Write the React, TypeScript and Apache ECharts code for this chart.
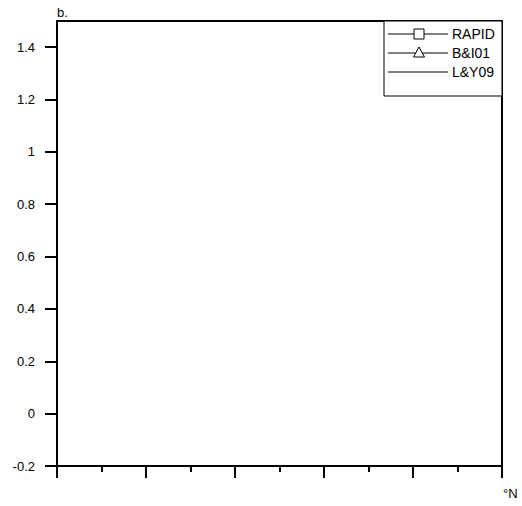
import React, { useEffect, useRef } from "react";
import * as echarts from "echarts";

const panelLabel = "b.";
const xUnitLabel = "°N";
const seriesNames = ["RAPID", "B&I01", "L&Y09"];
const seriesSymbols = ["square", "triangle", "none"];
const seriesValues: number[][] = [[], [], []];
const yTicks = [-0.2, 0, 0.2, 0.4, 0.6, 0.8, 1, 1.2, 1.4];
const yMin = -0.2;
const yMax = 1.5;
const xTicks = [0, 1, 2, 3, 4, 5];

const FONT = "'Liberation Sans', Arial, Helvetica, sans-serif";

export default function App() {
  const ref = useRef<HTMLDivElement>(null);
  useEffect(() => {
    document.body.style.margin = "0";
    if (!ref.current) return;
    const chart = echarts.init(ref.current, null, { renderer: "svg" });

    const lgX = 384, lgY = 21, lgW = 118, lgH = 75;
    const rowY = [34, 53, 72];
    const legendEls: any[] = [
      {
        type: "rect",
        shape: { x: lgX, y: lgY, width: lgW, height: lgH },
        style: { fill: "#fff", stroke: "#000", lineWidth: 1 },
        z: 10,
      },
    ];
    seriesNames.forEach((name, i) => {
      const y = rowY[i];
      legendEls.push({
        type: "line",
        shape: { x1: 388, y1: y, x2: 448, y2: y },
        style: { stroke: "#000", lineWidth: 1 },
        z: 11,
      });
      if (seriesSymbols[i] === "square") {
        legendEls.push({
          type: "rect",
          shape: { x: 414, y: y - 5, width: 10, height: 10 },
          style: { fill: "#fff", stroke: "#000", lineWidth: 1 },
          z: 12,
        });
      } else if (seriesSymbols[i] === "triangle") {
        legendEls.push({
          type: "polygon",
          shape: { points: [[419, y - 6], [413.5, y + 4], [424.5, y + 4]] },
          style: { fill: "#fff", stroke: "#000", lineWidth: 1 },
          z: 12,
        });
      }
      legendEls.push({
        type: "text",
        x: 452,
        y: y,
        style: {
          text: name,
          font: `14px ${FONT}`,
          fill: "#000",
          textVerticalAlign: "middle",
          textAlign: "left",
        },
        z: 12,
      });
    });

    chart.setOption({
      animation: false,
      backgroundColor: "#fff",
      textStyle: { fontFamily: FONT },
      grid: {
        left: 57,
        right: 20,
        top: 21,
        bottom: 40,
        show: true,
        borderColor: "#000",
        borderWidth: 2,
        backgroundColor: "transparent",
        containLabel: false,
        outerBoundsMode: "none",
      },
      xAxis: {
        type: "value",
        min: xTicks[0],
        max: xTicks[xTicks.length - 1],
        interval: 1,
        axisLine: { show: true, onZero: false, lineStyle: { color: "#000", width: 2 } },
        axisTick: { show: true, inside: false, length: 12, lineStyle: { color: "#000", width: 2 } },
        minorTick: { show: true, splitNumber: 2, length: 6, lineStyle: { color: "#000", width: 2 } },
        axisLabel: { show: false },
        splitLine: { show: false },
      },
      yAxis: {
        type: "value",
        min: yMin,
        max: yMax,
        axisLine: { show: true, onZero: false, lineStyle: { color: "#000", width: 2 } },
        axisTick: {
          show: true,
          inside: false,
          length: 12,
          customValues: yTicks,
          lineStyle: { color: "#000", width: 2 },
        },
        axisLabel: {
          show: true,
          customValues: yTicks,
          margin: 22,
          color: "#000",
          fontSize: 13,
          fontFamily: FONT,
          formatter: (v: number) => String(Math.round(v * 10) / 10),
        },
        splitLine: { show: false },
      },
      series: seriesNames.map((name, i) => ({
        name,
        type: "line",
        data: seriesValues[i],
        symbol: seriesSymbols[i] === "square" ? "emptyRect" : seriesSymbols[i] === "triangle" ? "emptyTriangle" : "none",
        lineStyle: { color: "#000", width: 1 },
        itemStyle: { color: "#000" },
      })),
      graphic: [
        {
          type: "text",
          x: 57,
          y: 19,
          style: {
            text: panelLabel,
            font: `13px ${FONT}`,
            fill: "#000",
            textVerticalAlign: "bottom",
          },
        },
        {
          type: "text",
          x: 503,
          y: 493,
          style: {
            text: xUnitLabel,
            font: `13px ${FONT}`,
            fill: "#000",
            textVerticalAlign: "middle",
          },
        },
        ...legendEls,
      ],
    });
    return () => chart.dispose();
  }, []);
  return <div ref={ref} style={{ width: 522, height: 506 }} />;
}
